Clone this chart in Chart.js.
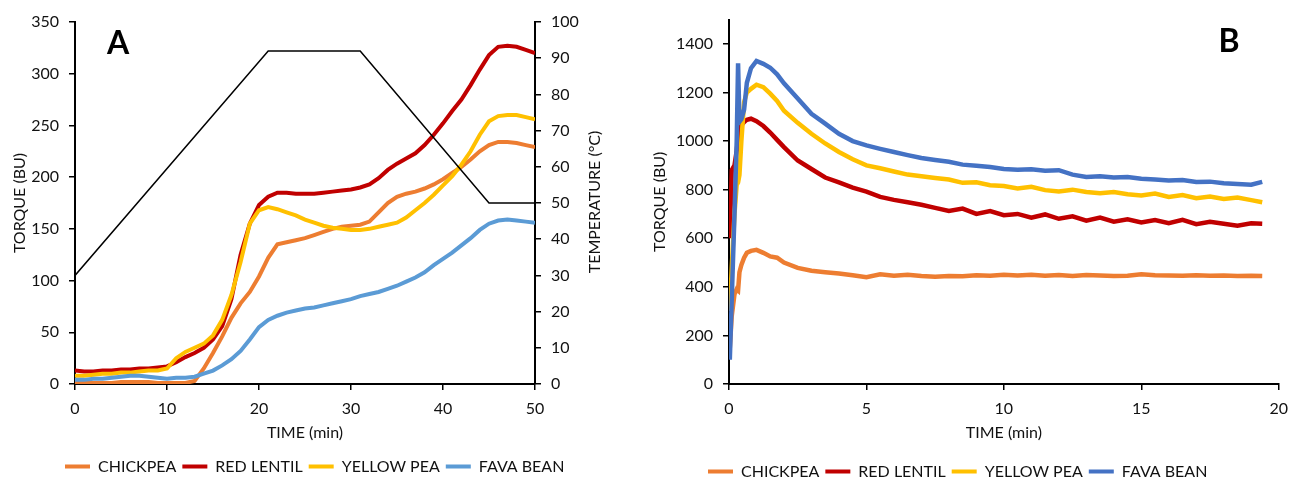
<!DOCTYPE html>
<html><head><meta charset="utf-8">
<script src="https://cdn.jsdelivr.net/npm/chart.js@4/dist/chart.umd.min.js"></script>
<style>
html,body{margin:0;padding:0;background:#fff;overflow:hidden;}
#wa{position:absolute;left:0;top:0;width:640px;height:480px;}
#wb{position:absolute;left:640px;top:0;width:657px;height:480px;}
</style></head><body>
<div id="wa"><canvas id="ca"></canvas></div>
<div id="wb"><canvas id="cb"></canvas></div>
<script>
// ---------- DATA ----------
const seriesNames = ['CHICKPEA', 'RED LENTIL', 'YELLOW PEA', 'FAVA BEAN'];

// Panel A (time in min)
const timeA = [0,1,2,3,4,5,6,7,8,9,10,11,12,13,14,15,16,17,18,19,20,21,22,23,24,25,26,27,28,29,30,31,32,33,34,35,36,37,38,39,40,41,42,43,44,45,46,47,48,49,50];
const chickpeaA = [2,1,1,1,1,2,2,2,2,1,1,1,1,3,15,30,46,64,78,89,104,122,135,137,139,141,144,147,150,152,153,154,157,166,175,181,184,186,189,193,198,204,210,217,225,231,234,234,233,231,229];
const redLentilA = [13,12,12,13,13,14,14,15,15,16,17,21,26,30,35,43,56,82,125,155,173,181,185,185,184,184,184,185,186,187,188,190,193,199,207,213,218,223,231,241,252,264,275,289,304,318,326,327,326,323,320];
const yellowPeaA = [8,8,9,10,10,11,11,12,13,13,15,25,31,35,39,47,62,86,118,155,168,171,169,166,163,159,156,153,151,150,149,149,150,152,154,156,161,168,175,183,192,201,212,225,241,254,259,260,260,258,256];
const favaBeanA = [4,4,5,5,6,7,8,8,7,6,5,6,6,7,10,13,18,24,32,43,55,62,66,69,71,73,74,76,78,80,82,85,87,89,92,95,99,103,108,115,121,127,134,141,149,155,158,159,158,157,156];
const tempTime = [0,21,31,45,50];
const tempValues = [30,92,92,50,50];

// Panel B (time in min)
const timeB = [0.03,0.1,0.2,0.28,0.33,0.38,0.45,0.55,0.65,0.8,1.0,1.25,1.5,1.75,2.0,2.5,3.0,3.5,4.0,4.5,5.0,5.5,6.0,6.5,7.0,7.5,8.0,8.5,9.0,9.5,10.0,10.5,11.0,11.5,12.0,12.5,13.0,13.5,14.0,14.5,15.0,15.5,16.0,16.5,17.0,17.5,18.0,18.5,19.0,19.4];
const chickpeaB = [150,280,370,390,385,460,490,520,540,548,552,540,525,520,500,478,466,460,455,448,440,452,446,450,445,442,445,444,448,446,450,447,450,446,449,445,449,447,445,446,452,448,447,446,448,446,447,445,446,445];
const redLentilB = [600,880,900,960,1010,1050,1065,1078,1088,1092,1082,1062,1035,1005,975,920,885,850,830,808,792,770,758,748,738,725,712,722,700,712,695,700,685,698,680,690,672,685,668,678,665,675,662,676,658,668,660,652,662,660];
const yellowPeaB = [300,480,700,820,830,860,1000,1160,1200,1215,1232,1222,1195,1165,1125,1075,1030,990,955,925,900,888,875,862,855,848,842,828,830,818,815,805,812,798,792,800,790,785,790,781,776,784,770,778,765,772,762,768,757,748];
const favaBeanB = [100,350,700,1000,1320,1080,1090,1130,1240,1300,1330,1318,1302,1275,1238,1175,1112,1072,1030,1000,982,968,955,942,930,922,915,903,898,893,885,882,884,878,880,862,852,855,850,852,845,842,838,840,832,833,826,823,820,832];

// ---------- STYLE ----------
const FONT = 'Lato, "Open Sans", sans-serif';
const TXT = '#111';
const colorsA = ['#ED7D31', '#C00000', '#FFC000', '#5B9BD5'];
const colorsB = ['#ED7D31', '#C00000', '#FFC000', '#4472C4'];

function pts(xs, ys) { return xs.map((x, i) => ({x: x, y: ys[i]})); }

const legendShift = {
  id: 'legendShift',
  afterLayout(chart, args, opts) {
    const lg = chart.legend;
    if (!lg || !lg.lineWidths) return;
    const pad = lg.options.labels.padding;
    const lh = 16 * 1.2;
    const h = lg.bottom - lg.top;
    const newTop = opts.cy - pad - lh / 2;
    lg.top = newTop; lg.bottom = newTop + h;
    const startX = (lg.left + pad + lg.right - lg.lineWidths[0]) / 2;
    const dx = opts.x - startX;
    lg.left += dx; lg.right += dx;
  }
};

const textLabels = {
  id: 'textLabels',
  afterDraw(chart, args, opts) {
    const ctx = chart.ctx;
    ctx.save();
    (opts.items || []).forEach(it => {
      ctx.save();
      ctx.font = it.font;
      ctx.fillStyle = it.color || TXT;
      ctx.textAlign = 'center';
      ctx.textBaseline = 'middle';
      ctx.translate(it.x, it.y);
      if (it.rot) ctx.rotate(it.rot);
      ctx.fillText(it.text, 0, 0);
      ctx.restore();
    });
    ctx.restore();
  }
};

function legendOpts() {
  return {
    display: true,
    position: 'bottom',
    labels: {
      boxWidth: 25, boxHeight: 4, padding: 6,
      color: TXT, font: {family: FONT, size: 16},
      filter: (item) => item.text !== 'TEMP',
      sort: (a, b) => b.datasetIndex - a.datasetIndex,
      generateLabels: (chart) => {
        const items = Chart.defaults.plugins.legend.labels.generateLabels(chart);
        items.forEach(it => { it.lineWidth = 0; it.fillStyle = it.strokeStyle; });
        return items;
      }
    }
  };
}

function axisCommon(extra) {
  return Object.assign({
    border: {display: true, color: '#000', width: 2},
    grid: {display: true, drawOnChartArea: false, drawTicks: true, tickLength: 6, color: '#000', lineWidth: 1.5},
  }, extra);
}

function tickOpts(step) {
  return {stepSize: step, padding: 10, color: TXT, font: {family: FONT, size: 16}, callback: (v) => String(v)};
}

function lineDs(label, data, color, yAxisID, width) {
  return {
    label: label, data: data, borderColor: color, backgroundColor: color,
    borderWidth: width, pointRadius: 0, tension: 0, fill: false, yAxisID: yAxisID
  };
}

// ---------- CHART A ----------
new Chart(document.getElementById('ca'), {
  type: 'line',
  data: {
    datasets: [
      lineDs('TEMP', pts(tempTime, tempValues), '#000', 'y2', 1.5),
      lineDs(seriesNames[3], pts(timeA, favaBeanA), colorsA[3], 'y', 4),
      lineDs(seriesNames[2], pts(timeA, yellowPeaA), colorsA[2], 'y', 4),
      lineDs(seriesNames[1], pts(timeA, redLentilA), colorsA[1], 'y', 4),
      lineDs(seriesNames[0], pts(timeA, chickpeaA), colorsA[0], 'y', 4)
    ]
  },
  options: {
    responsive: true, maintainAspectRatio: false, animation: false,
    layout: {padding: {top: 22, bottom: 4, left: 0, right: 0}},
    scales: {
      x: axisCommon({
        type: 'linear', position: 'bottom', min: 0, max: 50,
        ticks: Object.assign(tickOpts(10), {padding: 9}),
        title: {display: true, text: 'TIME (min)', color: TXT, font: {family: FONT, size: 16}, padding: {top: 0, bottom: 2}},
        afterFit: (s) => { s.height = 60; }
      }),
      y: axisCommon({
        position: 'left', min: 0, max: 350,
        ticks: tickOpts(50),
        title: {display: true, text: 'TORQUE (BU)', color: TXT, font: {family: FONT, size: 16}, padding: {top: 10, bottom: 0}},
        afterFit: (s) => { s.width = 75; }
      }),
      y2: axisCommon({
        position: 'right', min: 0, max: 100,
        ticks: tickOpts(10),
        afterFit: (s) => { s.width = 105; }
      })
    },
    plugins: {
      legend: legendOpts(),
      tooltip: {enabled: false},
      legendShift: {x: 65, cy: 468},
      textLabels: {items: [
        {text: 'A', x: 118, y: 44, font: 'bold 32px ' + FONT, color: '#000'},
        {text: 'TEMPERATURE (°C)', x: 595, y: 202, rot: -Math.PI / 2, font: '16px ' + FONT}
      ]}
    }
  },
  plugins: [legendShift, textLabels]
});

// ---------- CHART B ----------
new Chart(document.getElementById('cb'), {
  type: 'line',
  data: {
    datasets: [
      lineDs(seriesNames[3], pts(timeB, favaBeanB), colorsB[3], 'y', 4.5),
      lineDs(seriesNames[2], pts(timeB, yellowPeaB), colorsB[2], 'y', 4.5),
      lineDs(seriesNames[1], pts(timeB, redLentilB), colorsB[1], 'y', 4.5),
      lineDs(seriesNames[0], pts(timeB, chickpeaB), colorsB[0], 'y', 4.5)
    ]
  },
  options: {
    responsive: true, maintainAspectRatio: false, animation: false,
    layout: {padding: {top: 15, bottom: 4, left: 0, right: 18}},
    scales: {
      x: axisCommon({
        type: 'linear', position: 'bottom', min: 0, max: 20,
        ticks: Object.assign(tickOpts(5), {padding: 9}),
        title: {display: true, text: 'TIME (min)', color: TXT, font: {family: FONT, size: 16}, padding: {top: 0, bottom: 2}},
        afterFit: (s) => { s.height = 60; }
      }),
      y: axisCommon({
        position: 'left', min: 0, max: 1500,
        ticks: tickOpts(100),
        afterBuildTicks: (s) => { s.ticks = s.ticks.filter(t => t.value % 200 === 0); },
        title: {display: true, text: 'TORQUE (BU)', color: TXT, font: {family: FONT, size: 16}, padding: {top: 10, bottom: 0}},
        afterFit: (s) => { s.width = 89; }
      })
    },
    plugins: {
      legend: legendOpts(),
      tooltip: {enabled: false},
      legendShift: {x: 68, cy: 473},
      textLabels: {items: [
        {text: 'B', x: 589, y: 42, font: 'bold 32px ' + FONT, color: '#000'}
      ]}
    }
  },
  plugins: [legendShift, textLabels]
});
</script>
</body></html>
